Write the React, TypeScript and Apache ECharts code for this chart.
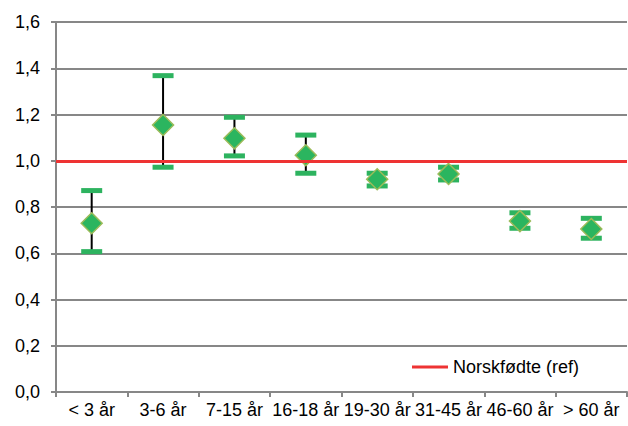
import React, { useEffect, useRef } from "react";
import * as echarts from "echarts";

const categories = ["< 3 år", "3-6 år", "7-15 år", "16-18 år", "19-30 år", "31-45 år", "46-60 år", "> 60 år"];
const estimates = [0.73, 1.155, 1.097, 1.024, 0.92, 0.943, 0.739, 0.705];
const lowerBounds = [0.607, 0.972, 1.021, 0.946, 0.891, 0.917, 0.708, 0.665];
const upperBounds = [0.871, 1.368, 1.188, 1.111, 0.946, 0.972, 0.775, 0.751];
const refValue = 1.0;
const refName = "Norskfødte (ref)";

export default function App() {
  const ref = useRef<HTMLDivElement>(null);
  useEffect(() => {
    if (!ref.current) return;
    const chart = echarts.init(ref.current, null, { renderer: "svg" });
    const font = "'Liberation Sans', Arial, sans-serif";
    const errData = categories.map((_, i) => [i, lowerBounds[i], upperBounds[i]]);
    chart.setOption({
      animation: false,
      backgroundColor: "#ffffff",
      grid: { left: 56, right: 1, top: 22, bottom: 34 },
      legend: {
        left: 412,
        top: 357,
        padding: 0,
        itemWidth: 36,
        itemHeight: 3,
        icon: "rect",
        data: [refName],
        textStyle: { fontFamily: font, fontSize: 18, color: "#000", lineHeight: 20 },
      },
      xAxis: {
        type: "category",
        data: categories,
        axisLine: { lineStyle: { color: "#878787", width: 2 } },
        axisTick: { show: true, length: 5, lineStyle: { color: "#878787", width: 2 } },
        axisLabel: { fontFamily: font, fontSize: 18, color: "#000", margin: 9, interval: 0 },
        splitLine: { show: false },
      },
      yAxis: {
        type: "value",
        min: 0,
        max: 1.6,
        interval: 0.2,
        axisLine: { show: true, lineStyle: { color: "#878787", width: 2 } },
        axisTick: { show: true, length: 5, lineStyle: { color: "#878787", width: 2 } },
        axisLabel: {
          fontFamily: font,
          fontSize: 18,
          color: "#000",
          margin: 16,
          formatter: (v: number) => v.toFixed(1).replace(".", ","),
        },
        splitLine: { show: true, lineStyle: { color: "#878787", width: 2 } },
      },
      series: [
        {
          name: refName,
          type: "line",
          data: [],
          color: "#ee3333",
          lineStyle: { color: "#ee3333", width: 3 },
          markLine: {
            silent: true,
            symbol: "none",
            label: { show: false },
            lineStyle: { color: "#ee3333", width: 3, type: "solid" },
            data: [{ yAxis: refValue }],
          },
          z: 2,
        },
        {
          name: "CI",
          type: "custom",
          data: errData,
          z: 3,
          renderItem: (params: any, api: any) => {
            const idx = api.value(0);
            const lo = api.coord([idx, api.value(1)]);
            const hi = api.coord([idx, api.value(2)]);
            const capW = 21;
            const capH = 5;
            return {
              type: "group",
              children: [
                {
                  type: "line",
                  shape: { x1: hi[0], y1: hi[1], x2: lo[0], y2: lo[1] },
                  style: { stroke: "#000", lineWidth: 2 },
                },
                {
                  type: "rect",
                  shape: { x: hi[0] - capW / 2, y: hi[1] - capH / 2, width: capW, height: capH },
                  style: { fill: "#2db35f" },
                },
                {
                  type: "rect",
                  shape: { x: lo[0] - capW / 2, y: lo[1] - capH / 2, width: capW, height: capH },
                  style: { fill: "#2db35f" },
                },
              ],
            };
          },
        },
        {
          name: "Estimate",
          type: "scatter",
          data: estimates.map((v, i) => [i, v]),
          symbol: "diamond",
          symbolSize: 21,
          z: 4,
          itemStyle: { color: "#2bb55f", borderColor: "#9bbb59", borderWidth: 1.5, opacity: 1 },
        },
      ],
    });
    return () => chart.dispose();
  }, []);
  return <div ref={ref} style={{ position: "fixed", left: 0, top: 0, width: 628, height: 426 }} />;
}
